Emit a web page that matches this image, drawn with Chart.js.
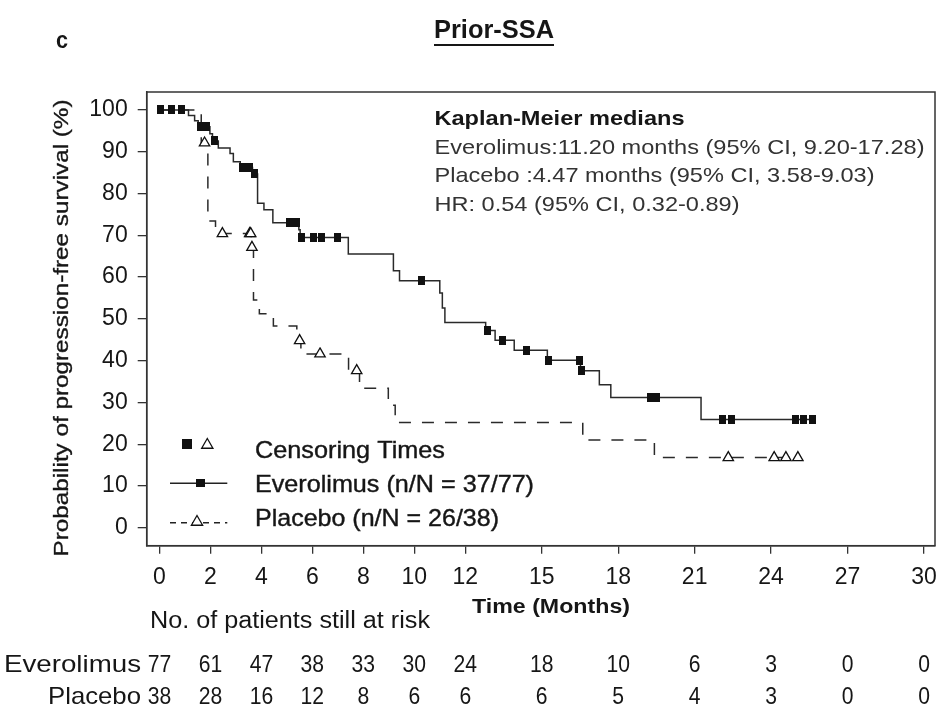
<!DOCTYPE html>
<html><head><meta charset="utf-8">
<script src="https://cdn.jsdelivr.net/npm/chart.js@4/dist/chart.umd.min.js"></script>
<style>html,body{margin:0;padding:0;background:#fff;}#wrap{width:938px;height:716px;position:relative;}</style>
</head><body><div id="wrap"><canvas id="c" width="938" height="716"></canvas></div>
<script>
// ---------- data ----------
const xTickValues = [0, 2, 4, 6, 8, 10, 12, 15, 18, 21, 24, 27, 30];
const yTickValues = [0, 10, 20, 30, 40, 50, 60, 70, 80, 90, 100];

const everolimusTimes = [0, 1.14, 1.38, 1.52, 1.98, 2.08, 2.31, 2.77, 2.9, 3.17, 3.65, 3.85, 4.1, 4.45, 5.47, 5.52, 7.41, 9.18, 9.42, 11.0, 11.1, 11.2, 12.8, 13.17, 13.92, 15.22, 16.52, 17.26, 17.71, 21.25, 25.63];
const everolimusSurvival = [100, 98.7, 97.4, 96.0, 94.3, 92.6, 90.9, 89.6, 87.6, 86.2, 84.7, 77.7, 76.1, 73.0, 71.3, 69.5, 65.5, 61.5, 59.1, 56.2, 52.6, 49.1, 47.2, 44.9, 42.5, 40.1, 37.6, 34.2, 31.2, 25.9, 25.9];
const everolimusCensorTimes = [0.03, 0.49, 0.88, 1.62, 1.85, 2.16, 3.27, 3.52, 3.73, 5.1, 5.38, 5.59, 6.04, 6.37, 7.0, 10.27, 12.88, 13.46, 14.41, 15.26, 16.5, 16.56, 19.25, 19.5, 22.1, 22.45, 24.94, 25.29, 25.63];

const placeboTimes = [0, 1.64, 1.9, 2.2, 3.6, 3.69, 3.92, 4.47, 5.39, 5.55, 7.42, 7.85, 8.98, 9.25, 16.61, 19.42, 25.05];
const placeboSurvival = [100, 92.1, 73.4, 70.4, 67.1, 54.5, 51.2, 48.3, 44.8, 41.6, 37.6, 33.4, 29.3, 25.2, 21.0, 16.8, 16.8];
const placeboCensorTimes = [1.77, 2.47, 3.54, 3.58, 3.63, 5.5, 6.3, 7.74, 22.32, 24.12, 24.58, 25.05];

const riskRowLabels = ['Everolimus', 'Placebo'];
const everolimusAtRisk = [77, 61, 47, 38, 33, 30, 24, 18, 10, 6, 3, 0, 0];
const placeboAtRisk = [38, 28, 16, 12, 8, 6, 6, 6, 5, 4, 3, 0, 0];

const panelLetter = 'c';
const chartTitle = 'Prior-SSA';
const xAxisTitle = 'Time (Months)';
const yAxisTitle = 'Probability of progression-free survival (%)';
const riskTitle = 'No. of patients still at risk';
const legendLabels = ['Censoring Times', 'Everolimus (n/N = 37/77)', 'Placebo (n/N = 26/38)'];
const medianLines = ['Kaplan-Meier medians', 'Everolimus:11.20 months (95% CI, 9.20-17.28)', 'Placebo :4.47 months (95% CI, 3.58-9.03)', 'HR: 0.54 (95% CI, 0.32-0.89)'];

// ---------- helpers ----------
const FONT = '"Liberation Sans", Arial, Helvetica, sans-serif';
const INK = '#161616';
function stepPoints(times, surv) { return times.map((t, i) => ({ x: t, y: surv[i] })); }
function survivalAt(times, surv, t) {
  let v = surv[0];
  for (let i = 0; i < times.length; i++) { if (times[i] <= t) v = surv[i]; else break; }
  return v;
}
function censorPoints(ct, times, surv) { return ct.map(t => ({ x: t, y: survivalAt(times, surv, t) })); }
function makeSquare(w, h) {
  const c = document.createElement('canvas'); c.width = w; c.height = h;
  const g = c.getContext('2d'); g.fillStyle = '#111'; g.fillRect(0, 0, w, h); return c;
}
// draws text; width = target width (horizontal fit) or scale factor when < 3
function fitText(ctx, text, x, y, font, color, align, width, heavy) {
  ctx.save();
  ctx.font = font; ctx.fillStyle = color; ctx.textBaseline = 'middle'; ctx.textAlign = align;
  const w = ctx.measureText(text).width;
  ctx.translate(x, y);
  if (width) ctx.scale(width < 3 ? width : width / w, 1);
  ctx.fillText(text, 0, 0);
  if (heavy) { ctx.strokeStyle = color; ctx.lineWidth = heavy; ctx.strokeText(text, 0, 0); }
  ctx.restore();
}
function drawTriangle(ctx, x, y, r) {
  ctx.save();
  ctx.beginPath();
  ctx.moveTo(x, y - r);
  ctx.lineTo(x + r * 0.866, y + r * 0.5);
  ctx.lineTo(x - r * 0.866, y + r * 0.5);
  ctx.closePath();
  ctx.fillStyle = '#fff'; ctx.fill();
  ctx.lineWidth = 1.3; ctx.strokeStyle = '#111'; ctx.stroke();
  ctx.restore();
}

const squareMarker = makeSquare(7, 9);

const decorPlugin = {
  id: 'decor',
  afterDraw(chart) {
    const ctx = chart.ctx, a = chart.chartArea, xs = chart.scales.x;
    // frame
    ctx.save();
    ctx.strokeStyle = '#333'; ctx.lineWidth = 1.5;
    ctx.strokeRect(a.left, a.top, a.right - a.left, a.bottom - a.top);
    ctx.restore();
    // titles
    fitText(ctx, panelLetter, 62, 41, 'bold 24px ' + FONT, INK, 'center', 0.9);
    fitText(ctx, chartTitle, 494, 31, 'bold 25px ' + FONT, INK, 'center', 120);
    ctx.save(); ctx.strokeStyle = INK; ctx.lineWidth = 2;
    ctx.beginPath(); ctx.moveTo(434, 45); ctx.lineTo(554, 45); ctx.stroke(); ctx.restore();
    // y axis title
    ctx.save();
    ctx.translate(62, 328); ctx.rotate(-Math.PI / 2);
    fitText(ctx, yAxisTitle, 0, 0, '21px ' + FONT, INK, 'center', 457, 0.35);
    ctx.restore();
    // x axis title
    fitText(ctx, xAxisTitle, 551, 607, 'bold 20px ' + FONT, INK, 'center', 158);
    // medians text
    fitText(ctx, medianLines[0], 434.5, 119, 'bold 21px ' + FONT, INK, 'left', 250);
    fitText(ctx, medianLines[1], 434.5, 148, '21px ' + FONT, '#333', 'left', 490);
    fitText(ctx, medianLines[2], 434.5, 176.5, '21px ' + FONT, '#333', 'left', 440);
    fitText(ctx, medianLines[3], 434.5, 205, '21px ' + FONT, '#333', 'left', 305);
    // legend
    ctx.save();
    ctx.drawImage(makeSquare(10, 10), 187.3 - 5, 444 - 5);
    drawTriangle(ctx, 207.3, 445, 6.5);
    fitText(ctx, legendLabels[0], 255, 451, '24px ' + FONT, INK, 'left', 190, 0.4);
    ctx.strokeStyle = '#222'; ctx.lineWidth = 1.5;
    ctx.beginPath(); ctx.moveTo(170, 483.3); ctx.lineTo(227.3, 483.3); ctx.stroke();
    ctx.drawImage(makeSquare(9, 8), 200 - 4.5, 483.3 - 4);
    fitText(ctx, legendLabels[1], 255, 485, '24px ' + FONT, INK, 'left', 279, 0.4);
    ctx.setLineDash([6, 5]);
    ctx.beginPath(); ctx.moveTo(170, 522.7); ctx.lineTo(227.3, 522.7); ctx.stroke();
    ctx.setLineDash([]);
    drawTriangle(ctx, 197, 522, 6.5);
    fitText(ctx, legendLabels[2], 255, 519, '24px ' + FONT, INK, 'left', 244, 0.4);
    ctx.restore();
    // risk table
    fitText(ctx, riskTitle, 150, 622, '23px ' + FONT, INK, 'left', 280);
    fitText(ctx, riskRowLabels[0], 141, 665, '24px ' + FONT, INK, 'right', 137);
    fitText(ctx, riskRowLabels[1], 141, 697, '24px ' + FONT, INK, 'right', 93);
    xTickValues.forEach((t, i) => {
      const px = xs.getPixelForValue(t);
      fitText(ctx, String(everolimusAtRisk[i]), px, 665, '24px ' + FONT, INK, 'center', 0.88);
      fitText(ctx, String(placeboAtRisk[i]), px, 697, '24px ' + FONT, INK, 'center', 0.88);
    });
  }
};

const tickFont = { family: FONT, size: 23 };

new Chart(document.getElementById('c'), {
  type: 'scatter',
  data: {
    datasets: [
      { label: 'Everolimus censored', data: censorPoints(everolimusCensorTimes, everolimusTimes, everolimusSurvival),
        showLine: false, pointStyle: squareMarker, pointRadius: 5 },
      { label: 'Placebo censored', data: censorPoints(placeboCensorTimes, placeboTimes, placeboSurvival),
        showLine: false, pointStyle: 'triangle', pointRadius: 6, backgroundColor: '#fff', borderColor: '#111', borderWidth: 1.3 },
      { label: 'Everolimus', data: stepPoints(everolimusTimes, everolimusSurvival), showLine: true, stepped: true,
        borderColor: '#2a2a2a', borderWidth: 1.5, pointRadius: 0, fill: false },
      { label: 'Placebo', data: stepPoints(placeboTimes, placeboSurvival), showLine: true, stepped: true,
        borderColor: '#2a2a2a', borderWidth: 1.5, borderDash: [12, 11], pointRadius: 0, fill: false }
    ]
  },
  options: {
    responsive: false, animation: false, devicePixelRatio: 1,
    layout: { autoPadding: false, padding: { left: 0, top: 92, right: 3, bottom: 0 } },
    plugins: { legend: { display: false }, tooltip: { enabled: false }, title: { display: false } },
    scales: {
      x: {
        type: 'linear', min: -0.5, max: 30.43,
        afterBuildTicks: s => { s.ticks = xTickValues.map(v => ({ value: v })); },
        afterFit: s => { s.height = 170.3; s.paddingRight = 0; s.paddingLeft = 0; },
        ticks: { font: tickFont, color: INK, padding: 10, autoSkip: false, maxRotation: 0 },
        grid: { display: true, drawOnChartArea: false, drawTicks: true, tickLength: 8, color: '#333', lineWidth: 1.3 },
        border: { display: true, color: '#333', width: 1.5 }
      },
      y: {
        type: 'linear', min: -4.3, max: 104.3,
        afterBuildTicks: s => { s.ticks = yTickValues.map(v => ({ value: v })); },
        afterFit: s => { s.width = 146.7; s.paddingTop = 0; s.paddingBottom = 0; },
        ticks: { font: tickFont, color: INK, padding: 10, autoSkip: false },
        grid: { display: true, drawOnChartArea: false, drawTicks: true, tickLength: 9, color: '#333', lineWidth: 1.3 },
        border: { display: true, color: '#333', width: 1.5 }
      }
    }
  },
  plugins: [decorPlugin]
});
</script>
</body></html>
